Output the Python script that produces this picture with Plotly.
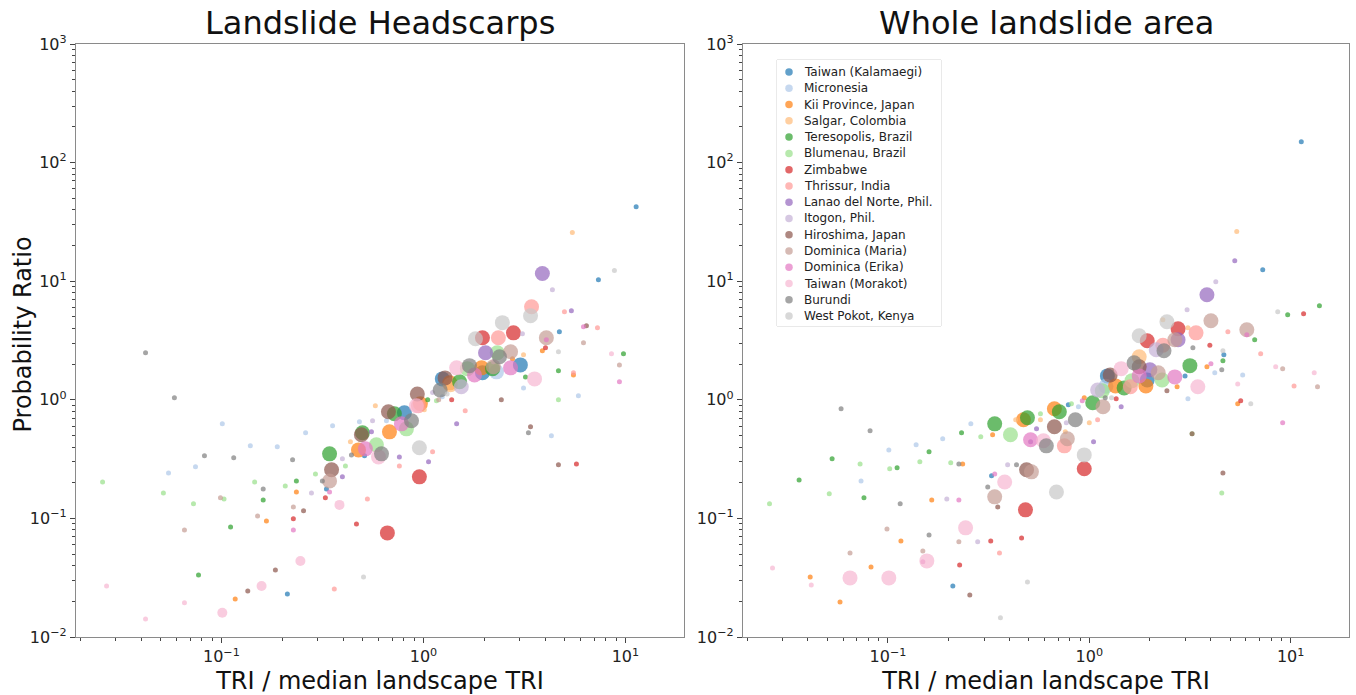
import math
import plotly.graph_objects as go

REGIONS = ["Taiwan (Kalamaegi)", "Micronesia", "Kii Province, Japan", "Salgar, Colombia",
           "Teresopolis, Brazil", "Blumenau, Brazil", "Zimbabwe", "Thrissur, India",
           "Lanao del Norte, Phil.", "Itogon, Phil.", "Hiroshima, Japan", "Dominica (Maria)",
           "Dominica (Erika)", "Taiwan (Morakot)", "Burundi", "West Pokot, Kenya"]
COLORS = ["#1f77b4", "#aec7e8", "#ff7f0e", "#ffbb78", "#2ca02c", "#98df8a", "#d62728", "#ff9896",
          "#9467bd", "#c5b0d5", "#8c564b", "#c49c94", "#e377c2", "#f7b6d2", "#7f7f7f", "#c7c7c7"]

# each point: (TRI / median landscape TRI, probability ratio, relative landslide-area weight)
# ---------------- Landslide headscarps ----------------
kalamaegi_head = [(11.3, 42.5, 1), (7.35, 10.3, 1), (4.71, 3.75, 1), (3.02, 1.97, 9), (1.96, 1.69, 9),
                  (1.24, 1.50, 9), (0.805, 0.777, 9), (0.511, 0.337, 1), (0.331, 0.177, 1), (0.212, 0.0231, 1)]
micronesia_head = [(0.0547, 0.242, 1), (0.0744, 0.272, 1), (0.101, 0.627, 1), (0.139, 0.409, 1), (0.189, 0.401, 1),
                   (0.261, 0.527, 1), (0.355, 0.604, 1), (0.482, 0.652, 1), (0.656, 0.665, 1), (1.24, 1.06, 1),
                   (2.30, 1.72, 9), (3.13, 1.26, 1), (4.30, 0.497, 1), (5.85, 1.08, 1)]
kii_head = [(0.117, 0.0209, 1), (0.167, 0.0953, 1), (0.235, 0.167, 1), (0.477, 0.378, 9), (0.679, 0.537, 9),
            (0.966, 0.925, 9), (1.35, 1.39, 9), (1.94, 1.86, 9), (2.76, 2.22, 1), (3.88, 2.59, 1), (5.53, 1.62, 1)]
salgar_head = [(0.435, 0.442, 1), (0.578, 0.890, 1), (1.01, 0.824, 1), (1.36, 1.34, 9), (3.13, 2.40, 1),
               (5.46, 25.7, 1)]
teresopolis_head = [(0.077, 0.0334, 1), (0.111, 0.0848, 1), (0.161, 0.143, 1), (0.235, 0.207, 1), (0.343, 0.350, 9),
                    (0.499, 0.527, 9), (0.718, 0.762, 9), (1.05, 1.0, 1), (1.51, 1.42, 9), (2.20, 1.83, 9),
                    (3.20, 1.56, 1), (4.66, 1.76, 1), (9.78, 2.44, 1)]
blumenau_head = [(0.0258, 0.203, 1), (0.0516, 0.164, 1), (0.0727, 0.133, 1), (0.103, 0.146, 1), (0.146, 0.203, 1),
                 (0.207, 0.188, 1), (0.292, 0.237, 1), (0.411, 0.277, 1), (0.585, 0.417, 9), (0.824, 0.569, 9),
                 (1.16, 0.981, 1), (1.65, 1.83, 9), (2.32, 2.49, 9), (4.66, 1.0, 1)]
zimbabwe_head = [(0.227, 0.0991, 1), (0.327, 0.149, 1), (0.466, 0.0899, 1), (0.663, 0.0755, 9), (0.955, 0.224, 9),
                 (1.38, 1.0, 1), (1.96, 3.34, 9), (2.79, 3.67, 9), (4.02, 2.75, 1), (5.72, 0.288, 1)]
thrissur_head = [(0.362, 0.0254, 1), (0.528, 0.146, 1), (0.760, 0.277, 1), (1.11, 0.364, 1), (0.944, 0.890, 9),
                 (1.61, 0.808, 1), (2.35, 3.34, 9), (3.43, 6.09, 9), (4.99, 5.53, 1), (5.53, 1.69, 1),
                 (7.27, 4.05, 1)]
lanao_head = [(0.397, 0.224, 1), (0.553, 0.537, 1), (0.760, 0.330, 1), (1.06, 0.300, 1), (1.46, 0.627, 1),
              (2.03, 2.49, 9), (3.88, 11.6, 9), (5.40, 5.64, 1)]
itogon_head = [(0.279, 0.164, 1), (0.397, 0.318, 1), (0.560, 0.665, 1), (1.11, 1.15, 1), (1.54, 1.29, 9),
               (2.22, 2.09, 1), (3.09, 3.61, 1), (4.35, 8.48, 1)]
hiroshima_head = [(0.135, 0.0244, 1), (0.185, 0.0367, 1), (0.255, 0.116, 1), (0.351, 0.257, 9), (0.493, 0.507, 9),
                  (0.671, 0.792, 9), (0.933, 1.12, 9), (1.28, 1.53, 9), (2.43, 1.0, 1), (3.39, 0.592, 1),
                  (4.66, 0.283, 1), (6.41, 4.21, 1)]
maria_head = [(0.0656, 0.080, 1), (0.0989, 0.149, 1), (0.151, 0.105, 1), (0.227, 0.125, 1), (0.343, 0.207, 9),
              (1.19, 1.0, 1), (2.22, 1.90, 9), (2.70, 2.54, 9), (4.06, 3.34, 9), (6.20, 3.03, 1), (9.34, 1.97, 1)]
erika_head = [(0.227, 0.080, 1), (0.343, 0.167, 1), (0.516, 0.386, 9), (0.778, 0.627, 9), (1.79, 1.62, 9),
              (2.70, 1.86, 9), (4.06, 3.21, 1), (6.20, 4.13, 1), (9.34, 1.42, 1)]
morakot_head = [(0.027, 0.0269, 1), (0.0421, 0.0142, 1), (0.0656, 0.0194, 1), (0.101, 0.016, 4), (0.158, 0.0269, 4),
                (0.246, 0.0438, 4), (0.384, 0.130, 4), (0.599, 0.330, 9), (0.923, 0.890, 9), (1.46, 1.86, 9),
                (3.55, 1.50, 9), (8.53, 2.44, 1)]
burundi_head = [(0.0421, 2.49, 1), (0.0585, 1.04, 1), (0.0824, 0.337, 1), (0.115, 0.324, 1), (0.161, 0.177, 1),
                (0.225, 0.312, 1), (0.316, 0.207, 1), (0.440, 0.343, 1), (0.620, 0.350, 9), (0.873, 0.665, 9),
                (1.21, 1.21, 9), (1.69, 1.94, 9), (2.38, 2.31, 9), (3.31, 0.527, 1)]
westpokot_head = [(0.505, 0.0321, 1), (0.955, 0.394, 9), (1.31, 1.12, 1), (1.81, 3.27, 9), (2.46, 4.47, 9),
                  (3.39, 5.11, 9), (4.66, 2.54, 1), (8.82, 12.3, 1)]

# ---------------- Whole landslide area ----------------
kalamaegi_whole = [(0.210, 0.0269, 1), (0.327, 0.229, 1), (0.787, 0.908, 1), (1.23, 1.59, 9), (1.94, 1.47, 9),
                   (2.99, 1.59, 1), (4.66, 2.40, 1), (7.27, 12.5, 1), (11.3, 150, 1)]
micronesia_whole = [(0.0735, 0.207, 1), (0.101, 0.378, 1), (0.138, 0.417, 1), (0.187, 0.469, 1), (0.258, 0.627, 1),
                    (0.883, 0.873, 1), (1.21, 1.30, 9), (3.09, 1.02, 1), (4.20, 1.69, 1), (5.78, 1.62, 1)]
kii_whole = [(0.0411, 0.0321, 1), (0.0578, 0.0197, 1), (0.0824, 0.039, 1), (0.116, 0.0646, 1), (0.165, 0.143, 1),
             (0.235, 0.288, 1), (0.331, 0.507, 1), (0.471, 0.678, 9), (0.671, 0.840, 9), (0.944, 1.04, 1),
             (1.35, 1.31, 9), (1.91, 1.31, 9), (2.73, 1.29, 1), (3.84, 1.90, 1), (5.46, 0.925, 1)]
salgar_whole = [(0.431, 0.678, 1), (0.572, 0.678, 1), (0.760, 0.537, 1), (1.0, 0.639, 1), (1.77, 2.31, 9),
                (2.32, 4.73, 1), (3.09, 4.05, 1), (5.40, 26.2, 1)]
teresopolis_whole = [(0.0362, 0.211, 1), (0.0528, 0.318, 1), (0.076, 0.149, 1), (0.111, 0.267, 1), (0.160, 0.364, 1),
                     (0.232, 0.527, 1), (0.339, 0.627, 9), (0.493, 0.705, 9), (0.710, 0.792, 9), (1.04, 0.944, 9),
                     (1.49, 1.26, 9), (3.16, 1.94, 9), (4.61, 2.13, 1), (6.63, 3.21, 1), (9.67, 5.21, 1),
                     (13.9, 6.21, 1)]
blumenau_whole = [(0.0258, 0.133, 1), (0.0511, 0.161, 1), (0.0727, 0.288, 1), (0.102, 0.262, 1), (0.144, 0.300, 1),
                  (0.205, 0.294, 1), (0.289, 0.488, 1), (0.406, 0.507, 9), (0.572, 0.762, 1), (0.815, 0.925, 1),
                  (1.16, 1.19, 9), (1.63, 1.45, 9), (2.30, 1.47, 9), (3.24, 0.517, 1), (4.55, 0.164, 1)]
zimbabwe_whole = [(0.227, 0.0405, 1), (0.324, 0.0646, 1), (0.461, 0.0685, 1), (0.482, 0.118, 9), (0.944, 0.262, 9),
                  (1.36, 1.02, 1), (1.94, 3.15, 9), (2.76, 3.97, 9), (3.97, 2.88, 1), (5.65, 0.981, 1),
                  (11.6, 5.32, 1)]
thrissur_whole = [(0.358, 0.0512, 1), (0.752, 0.409, 9), (1.10, 0.678, 1), (1.60, 1.29, 9), (2.32, 2.88, 9),
                  (3.39, 3.67, 9), (4.88, 3.75, 1), (7.10, 2.44, 1), (10.4, 1.31, 1)]
lanao_whole = [(0.511, 0.442, 1), (0.547, 0.569, 1), (1.05, 0.442, 1), (1.44, 0.873, 1), (2.00, 1.79, 9),
               (2.76, 3.21, 9), (3.84, 7.69, 9), (5.28, 14.9, 1)]
itogon_whole = [(0.196, 0.146, 1), (0.279, 0.0634, 1), (0.393, 0.283, 1), (0.769, 0.639, 1), (1.10, 1.21, 9),
                (2.15, 2.64, 9), (3.06, 5.75, 1), (4.25, 9.9, 1)]
hiroshima_whole = [(0.255, 0.0226, 1), (0.351, 0.125, 1), (0.488, 0.257, 9), (0.671, 0.592, 9), (1.27, 1.62, 9),
                   (1.77, 1.90, 9), (2.43, 1.19, 1), (3.24, 0.517, 1), (4.61, 0.242, 1)]
maria_whole = [(0.0648, 0.0512, 1), (0.0989, 0.0815, 1), (0.149, 0.0532, 1), (0.225, 0.0634, 1), (0.339, 0.152, 9),
               (0.516, 0.247, 9), (0.778, 0.469, 9), (1.17, 0.873, 9), (2.20, 1.69, 9), (2.66, 3.21, 9),
               (4.02, 4.64, 9), (6.06, 3.90, 9), (9.13, 1.83, 1), (13.6, 1.29, 1)]
erika_whole = [(0.149, 0.043, 1), (0.225, 0.143, 1), (0.339, 0.237, 1), (0.511, 0.460, 9), (0.923, 0.981, 1),
               (1.77, 1.59, 9), (2.66, 1.56, 9), (4.02, 2.01, 1), (6.06, 3.54, 1), (9.13, 0.639, 1)]
morakot_whole = [(0.0267, 0.0382, 1), (0.0416, 0.0275, 1), (0.0648, 0.0315, 9), (0.101, 0.0315, 9), (0.156, 0.0438, 9),
                 (0.243, 0.0832, 9), (0.380, 0.203, 9), (0.592, 0.451, 9), (1.44, 1.83, 9), (3.46, 1.29, 9),
                 (5.46, 1.36, 1), (8.43, 1.90, 1), (13.1, 1.69, 1)]
burundi_whole = [(0.0585, 0.840, 1), (0.0815, 0.547, 1), (0.115, 0.133, 1), (0.160, 0.0726, 1), (0.225, 0.288, 1),
                 (0.313, 0.184, 1), (0.435, 0.283, 1), (0.612, 0.409, 9), (0.853, 0.678, 9), (1.20, 1.04, 1),
                 (1.67, 2.05, 9), (2.35, 2.59, 9), (3.27, 2.75, 1), (4.55, 1.79, 1)]
westpokot_whole = [(0.362, 0.0145, 1), (0.493, 0.0291, 1), (0.687, 0.167, 9), (0.944, 0.343, 9), (1.29, 1.04, 1),
                   (1.77, 3.47, 9), (2.43, 4.55, 9), (4.61, 2.59, 1), (6.34, 0.925, 1), (8.63, 5.53, 1)]

HEAD = [kalamaegi_head, micronesia_head, kii_head, salgar_head, teresopolis_head, blumenau_head,
        zimbabwe_head, thrissur_head, lanao_head, itogon_head, hiroshima_head, maria_head,
        erika_head, morakot_head, burundi_head, westpokot_head]
WHOLE = [kalamaegi_whole, micronesia_whole, kii_whole, salgar_whole, teresopolis_whole, blumenau_whole,
         zimbabwe_whole, thrissur_whole, lanao_whole, itogon_whole, hiroshima_whole, maria_whole,
         erika_whole, morakot_whole, burundi_whole, westpokot_whole]

FONT = "DejaVu Sans"
W, H = 1356, 695
fig = go.Figure()


def msize(w):
    return 5.0 * math.sqrt(w)


for i, name in enumerate(REGIONS):
    for pts, xa, ya in ((HEAD[i], "x", "y"), (WHOLE[i], "x2", "y2")):
        fig.add_trace(go.Scatter(
            x=[p[0] for p in pts], y=[p[1] for p in pts], mode="markers",
            marker=dict(size=[msize(p[2]) for p in pts], color=COLORS[i], opacity=0.7, line=dict(width=0)),
            xaxis=xa, yaxis=ya, showlegend=False, hoverinfo="skip", name=name))

# legend drawn on its own hidden axes (one row per region)
n = len(REGIONS)
rows = list(range(n))
fig.add_trace(go.Scatter(x=[12] * n, y=rows, mode="markers", xaxis="x3", yaxis="y3",
                         marker=dict(size=7.5, color=COLORS, opacity=0.7, line=dict(width=0)),
                         showlegend=False, hoverinfo="skip"))

sup = {-2: "\u22122", -1: "\u22121", 0: "0", 1: "1", 2: "2", 3: "3"}
yvals = [10.0 ** k for k in range(-2, 4)]
ytext = ["10<sup>%s</sup>" % sup[k] for k in range(-2, 4)]
xvals = [10.0 ** k for k in range(-1, 2)]
xtext = ["10<sup>%s</sup>" % sup[k] for k in range(-1, 2)]
yminor = [m * 10.0 ** k for k in range(-2, 3) for m in range(2, 10)]
xminor = [m * 10.0 ** k for k in range(-2, 2) for m in range(2, 10)]

ydom = [1 - 637 / H, 1 - 44 / H]
xdom1 = [76 / W, 684 / W]
xdom2 = [743 / W, 1349 / W]
legx = [777 / W, 941 / W]
legy = [1 - 326 / H, 1 - 60 / H]

axis_common = dict(type="log", showline=True, linecolor="#8a8a8a", linewidth=1.3, mirror=True,
                   ticks="outside", ticklen=5, tickwidth=1.2, tickcolor="#444", showgrid=False, zeroline=False,
                   automargin=False,
                   tickfont=dict(family=FONT, size=16, color="#222"),
                   minor=dict(ticks="outside", ticklen=2.5, tickwidth=0.8, tickcolor="#444", showgrid=False))

xr = [-1.72, 1.29]
xcommon = dict(axis_common, range=xr, tickmode="array", tickvals=xvals, ticktext=xtext)
xcommon["minor"] = dict(axis_common["minor"], tickmode="array", tickvals=xminor)
ycommon = dict(axis_common, range=[-2, 3], tickmode="array", tickvals=yvals, ticktext=ytext)
ycommon["minor"] = dict(axis_common["minor"], tickmode="array", tickvals=yminor)

xtitle = dict(text="TRI / median landscape TRI", font=dict(family=FONT, size=24, color="#111"), standoff=6)

annotations = [
    dict(text="Landslide Headscarps", x=(xdom1[0] + xdom1[1]) / 2, y=ydom[1], xref="paper", yref="paper",
         xanchor="center", yanchor="bottom", yshift=0, showarrow=False,
         font=dict(family=FONT, size=32, color="#111")),
    dict(text="Whole landslide area", x=(xdom2[0] + xdom2[1]) / 2, y=ydom[1], xref="paper", yref="paper",
         xanchor="center", yanchor="bottom", yshift=0, showarrow=False,
         font=dict(family=FONT, size=32, color="#111")),
    dict(text="Probability Ratio", x=22 / W, y=(ydom[0] + ydom[1]) / 2 + 6 / H, xref="paper", yref="paper",
         xanchor="center", yanchor="middle", textangle=-90, showarrow=False,
         font=dict(family=FONT, size=24, color="#111")),
]
for i, name in enumerate(REGIONS):
    annotations.append(dict(text=name, x=25, y=i, xref="x3", yref="y3", xanchor="left", yanchor="middle",
                            showarrow=False, font=dict(family=FONT, size=12, color="#222")))

fig.update_layout(
    width=W, height=H, margin=dict(l=0, r=0, t=0, b=0),
    paper_bgcolor="white", plot_bgcolor="white",
    font=dict(family=FONT, color="#222"),
    showlegend=False,
    xaxis=dict(xcommon, domain=xdom1, anchor="y", title=xtitle),
    yaxis=dict(ycommon, domain=ydom, anchor="x"),
    xaxis2=dict(xcommon, domain=xdom2, anchor="y2", title=xtitle),
    yaxis2=dict(ycommon, domain=ydom, anchor="x2"),
    xaxis3=dict(domain=legx, range=[0, 164], visible=False, fixedrange=True, anchor="y3"),
    yaxis3=dict(domain=legy, range=[15.61, -0.74], visible=False, fixedrange=True, anchor="x3"),
    shapes=[dict(type="rect", xref="x3 domain", yref="y3 domain", x0=0, x1=1, y0=0, y1=1,
                 line=dict(color="#d4d4d4", width=1), fillcolor="white", layer="below")],
    annotations=annotations,
)

fig.write_html("out.html", config={"displayModeBar": False},
               post_script="document.body.style.margin='0px';")
